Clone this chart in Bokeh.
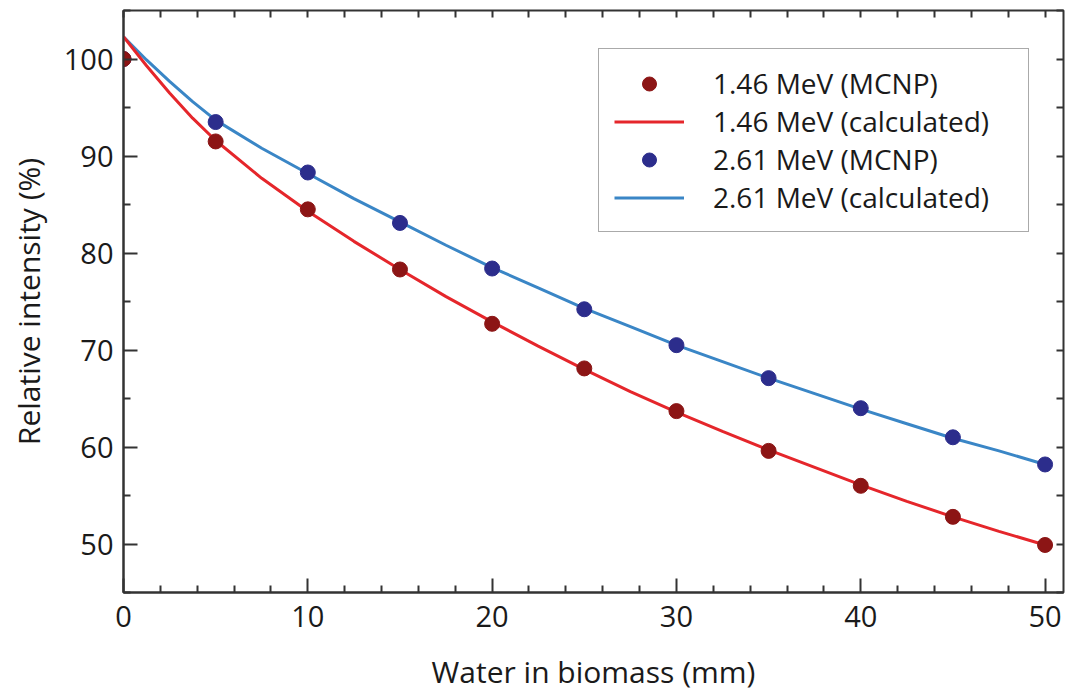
from bokeh.plotting import figure
from bokeh.models import (Range1d, LinearAxis, Legend, LegendItem,
                          ColumnDataSource, FixedTicker, CustomJSTickFormatter)
from bokeh.embed import file_html
from bokeh.resources import INLINE

# MCNP simulated points
x_mcnp = [0, 5, 10, 15, 20, 25, 30, 35, 40, 45, 50]
y_146_mcnp = [100.0, 91.5, 84.5, 78.3, 72.7, 68.1, 63.7, 59.6, 56.0, 52.8, 49.9]
y_261_mcnp = [100.0, 93.5, 88.3, 83.1, 78.4, 74.2, 70.5, 67.1, 64.0, 61.0, 58.2]

# calculated curves
x_calc = [0, 1.25, 2.5, 3.75, 5, 7.5, 10, 12.5, 15, 17.5, 20, 22.5, 25, 27.5, 30, 32.5, 35,
          37.5, 40, 42.5, 45, 47.5, 50]
y_146_calc = [102.3, 99.3, 96.5, 93.9, 91.6, 87.7, 84.3, 81.2, 78.3, 75.5, 72.9, 70.4, 68.0,
              65.7, 63.6, 61.6, 59.7, 57.9, 56.1, 54.4, 52.8, 51.3, 49.9]
y_261_calc = [102.3, 99.9, 97.7, 95.6, 93.7, 90.8, 88.2, 85.6, 83.2, 80.8, 78.5, 76.4, 74.3,
              72.4, 70.5, 68.8, 67.1, 65.5, 63.9, 62.4, 60.9, 59.6, 58.2]

x_major = [0, 10, 20, 30, 40, 50]
x_minor = [2, 4, 6, 8, 12, 14, 16, 18, 22, 24, 26, 28, 32, 34, 36, 38, 42, 44, 46, 48]
y_major = [50, 60, 70, 80, 90, 100]
y_minor = [45, 55, 65, 75, 85, 95, 105]

labels = ["1.46 MeV (MCNP)", "1.46 MeV (calculated)", "2.61 MeV (MCNP)", "2.61 MeV (calculated)"]

FONT = "Open Sans"
AX = "#333333"
TXT = "#1a1a1a"

p = figure(width=1068, height=695, output_backend="svg", toolbar_location=None,
           x_range=Range1d(0, 51), y_range=Range1d(45, 105),
           min_border_left=123, min_border_right=5, min_border_top=10, min_border_bottom=103)
p.xgrid.visible = False
p.ygrid.visible = False
p.outline_line_color = AX
p.outline_line_width = 2
p.background_fill_color = "white"
p.border_fill_color = "white"

xa = p.xaxis[0]
xa.ticker = FixedTicker(ticks=x_major, minor_ticks=x_minor)
ya = p.yaxis[0]
ya.ticker = FixedTicker(ticks=y_major, minor_ticks=y_minor)

for ax in (xa, ya):
    ax.axis_line_color = AX
    ax.axis_line_width = 2
    ax.major_tick_line_color = AX
    ax.minor_tick_line_color = AX
    ax.major_tick_line_width = 2
    ax.minor_tick_line_width = 2
    ax.major_tick_in = 14
    ax.major_tick_out = 0
    ax.minor_tick_in = 7
    ax.minor_tick_out = 0
    ax.major_label_text_font = FONT
    ax.major_label_text_font_size = "29px"
    ax.major_label_text_color = TXT
    ax.axis_label_text_font = FONT
    ax.axis_label_text_font_size = "30px"
    ax.axis_label_text_font_style = "normal"
    ax.axis_label_text_color = TXT

xa.axis_label = "Water in biomass (mm)"
ya.axis_label = "Relative intensity (%)"
xa.major_label_standoff = 13
xa.axis_label_standoff = 21
ya.major_label_standoff = 10
ya.axis_label_standoff = 12

# top and right axes with ticks only
blank = CustomJSTickFormatter(code="return ''")
top = LinearAxis(ticker=FixedTicker(ticks=x_major, minor_ticks=x_minor),
                 formatter=blank, axis_line_color=None)
right = LinearAxis(ticker=FixedTicker(ticks=y_major, minor_ticks=y_minor),
                   formatter=blank, axis_line_color=None)
for ax in (top, right):
    ax.major_tick_line_color = AX
    ax.minor_tick_line_color = AX
    ax.major_tick_line_width = 2
    ax.minor_tick_line_width = 2
    ax.major_tick_in = 7
    ax.major_tick_out = 0
    ax.minor_tick_in = 7
    ax.minor_tick_out = 0
    ax.major_label_standoff = 0
p.add_layout(top, "above")
p.add_layout(right, "right")

src_calc = ColumnDataSource(dict(x=x_calc, r=y_146_calc, b=y_261_calc))
src_mc = ColumnDataSource(dict(x=x_mcnp, r=y_146_mcnp, b=y_261_mcnp))

l_blue = p.line("x", "b", source=src_calc, line_color="#3a86c6", line_width=3)
l_red = p.line("x", "r", source=src_calc, line_color="#e5262b", line_width=3)
s_blue = p.scatter("x", "b", source=src_mc, size=15, fill_color="#2c2d8c", line_color="#2c2d8c")
s_red = p.scatter("x", "r", source=src_mc, size=15, fill_color="#8c1515", line_color="#8c1515")

legend = Legend(items=[LegendItem(label=labels[0], renderers=[s_red]),
                       LegendItem(label=labels[1], renderers=[l_red]),
                       LegendItem(label=labels[2], renderers=[s_blue]),
                       LegendItem(label=labels[3], renderers=[l_blue])],
                location=(475, 360))
legend.label_text_font = FONT
legend.label_text_font_size = "28px"
legend.label_text_color = TXT
legend.glyph_width = 70
legend.glyph_height = 35
legend.label_height = 35
legend.label_width = 300
legend.spacing = 0
legend.padding = 15
legend.margin = 0
legend.label_standoff = 29
legend.border_line_color = "#555555"
legend.border_line_width = 1.5
legend.background_fill_alpha = 1
p.add_layout(legend, "center")

open("out.html", "w").write(file_html(p, INLINE))
